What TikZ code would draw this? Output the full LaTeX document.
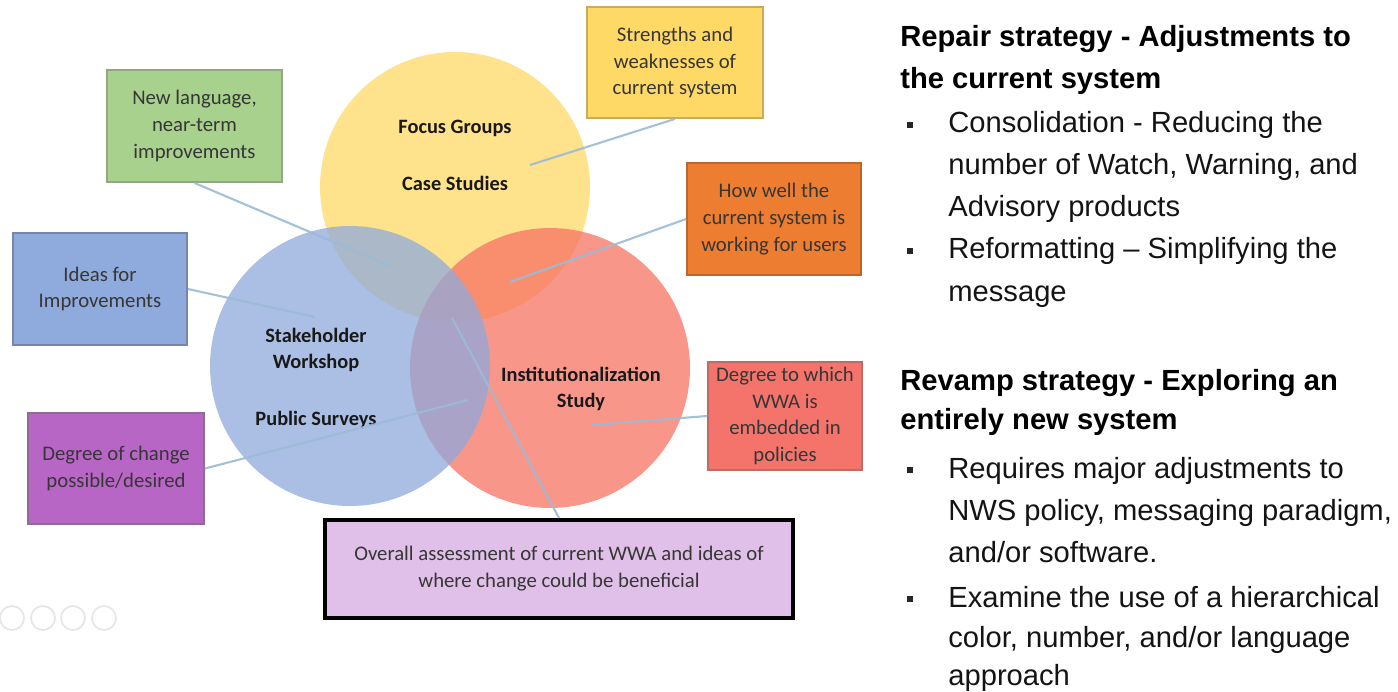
\documentclass[tikz,border=0pt]{standalone}
\usepackage{fontspec}
\setmainfont{Carlito}
\newfontfamily\arialf{Liberation Sans}
\definecolor{cyel}{HTML}{FFD966}
\definecolor{cblue}{HTML}{8FAADC}
\definecolor{cred}{HTML}{F77364}
\definecolor{bgreen}{HTML}{A9D18E}
\definecolor{bgreenB}{HTML}{93A882}
\definecolor{byel}{HTML}{FFD966}
\definecolor{byelB}{HTML}{C8AC5A}
\definecolor{borange}{HTML}{ED7D31}
\definecolor{borangeB}{HTML}{B9672F}
\definecolor{bblue}{HTML}{8FAADC}
\definecolor{bblueB}{HTML}{7586A8}
\definecolor{bpurple}{HTML}{B866C6}
\definecolor{bpurpleB}{HTML}{8E6C96}
\definecolor{bred}{HTML}{F4746C}
\definecolor{bredB}{HTML}{C06A66}
\definecolor{blav}{HTML}{E0C0E8}
\definecolor{textdark}{HTML}{363636}
\definecolor{connblue}{HTML}{9BBBD6}
\definecolor{iconGray}{HTML}{E6E6E6}
\tikzset{
  venn/.style={circle, inner sep=0pt, fill opacity=0.75},
  clabel/.style={font=\fontsize{11.6}{14.7}\selectfont\bfseries, text=black!90, align=center, inner sep=0pt},
  box/.style={rectangle, inner sep=0pt, align=center, font=\fontsize{11.8}{15.3}\selectfont, text=textdark, line width=1.1pt},
  conn/.style={draw=connblue, line width=1.2pt, draw opacity=0.9},
  rtext/.style={anchor=base west, inner sep=0pt, text=black!92, font=\arialf\fontsize{16.6}{20}\selectfont},
  rhead/.style={anchor=base west, inner sep=0pt, text=black, font=\arialf\bfseries\fontsize{16.6}{20}\selectfont},
  bulletbox/.style={rectangle, fill=black!85, minimum size=0.12cm, inner sep=0pt},
  icon/.style={circle, draw=iconGray, line width=1pt, minimum size=0.48cm, inner sep=0pt},
}
\begin{document}
\begin{tikzpicture}[x=0.02cm,y=-0.02cm]
\useasboundingbox (0,0) rectangle (1398,692);
\fill[white] (0,0) rectangle (1398,692);

% Venn circles
\node[venn, fill=cyel, minimum size=5.4cm] (yc) at (455,187) {};
\node[venn, fill=cred, minimum size=5.6cm] (rc) at (550,368) {};
\node[venn, fill=cblue, minimum size=5.6cm] (bc) at (350,366) {};

% circle labels
\node[clabel] (fg) at (455,128) {Focus Groups};
\node[clabel] (cs) at (455,183) {Case Studies};
\node[clabel] (sw) at (316,350) {Stakeholder\\Workshop};
\node[clabel] (ps) at (316,420) {Public Surveys};
\node[clabel] (is) at (581,389) {Institutionalization\\Study};

% boxes
\node[box, fill=bgreen, draw=bgreenB, minimum width=3.5cm, minimum height=2.24cm] (gbox) at (194.5,126) {New language,\\near-term\\improvements};
\node[box, fill=byel, draw=byelB, minimum width=3.52cm, minimum height=2.22cm] (ybox) at (675,62.5) {Strengths and\\weaknesses of\\current system};
\node[box, fill=borange, draw=borangeB, minimum width=3.48cm, minimum height=2.24cm] (obox) at (774,219) {How well the\\current system is\\working for users};
\node[box, fill=bblue, draw=bblueB, minimum width=3.48cm, minimum height=2.24cm] (bbox) at (100,289) {Ideas for\\Improvements};
\node[box, fill=bpurple, draw=bpurpleB, minimum width=3.52cm, minimum height=2.22cm] (pbox) at (116,468.5) {Degree of change\\possible/desired};
\node[box, fill=bred, draw=bredB, minimum width=3.08cm, minimum height=2.16cm] (rbox) at (785,416) {Degree to which\\WWA is\\embedded in\\policies};
\node[box, fill=blav, draw=black, line width=2.3pt, minimum width=9.36cm, minimum height=1.96cm] (abox) at (559,569) {Overall assessment of current WWA and ideas of\\where change could be beneficial};

% connector end points
\coordinate (c1) at (390,266);
\coordinate (c2) at (315,317);
\coordinate (c3) at (530,165);
\coordinate (c4) at (510,282);
\coordinate (c5) at (468,400);
\coordinate (c6) at (592,425);
\coordinate (c7) at (452,318);

\draw[conn] (gbox.south) -- (c1);
\draw[conn] (bbox.east) -- (c2);
\draw[conn] (ybox.south) -- (c3);
\draw[conn] (obox.west) -- (c4);
\draw[conn] (pbox.east) -- (c5);
\draw[conn] (rbox.west) -- (c6);
\draw[conn] (abox.north) -- (c7);

% faint slide icons
\node[icon] (i1) at (12,618) {};
\node[icon] (i2) at (43,618) {};
\node[icon] (i3) at (73,618) {};
\node[icon] (i4) at (104,618) {};

% right column
\node[rhead] (h1a) at (900,47) {Repair strategy - Adjustments to};
\node[rhead] (h1b) at (900,89) {the current system};
\node[bulletbox] (b1) at (910,125) {};
\node[rtext] (t1a) at (948,133) {Consolidation - Reducing the};
\node[rtext] (t1b) at (948,175) {number of Watch, Warning, and};
\node[rtext] (t1c) at (948,217) {Advisory products};
\node[bulletbox] (b2) at (910,251) {};
\node[rtext] (t2a) at (948,259) {Reformatting – Simplifying the};
\node[rtext] (t2b) at (948,301) {message};

\node[rhead] (h2a) at (900,390) {Revamp strategy - Exploring an};
\node[rhead] (h2b) at (900,429) {entirely new system};
\node[bulletbox] (b3) at (910,470) {};
\node[rtext] (t3a) at (948,478) {Requires major adjustments to};
\node[rtext] (t3b) at (948,520) {NWS policy, messaging paradigm,};
\node[rtext] (t3c) at (948,562) {and/or software.};
\node[bulletbox] (b4) at (910,599) {};
\node[rtext] (t4a) at (948,607) {Examine the use of a hierarchical};
\node[rtext] (t4b) at (948,647) {color, number, and/or language};
\node[rtext] (t4c) at (948,685) {approach};
\end{tikzpicture}
\end{document}
